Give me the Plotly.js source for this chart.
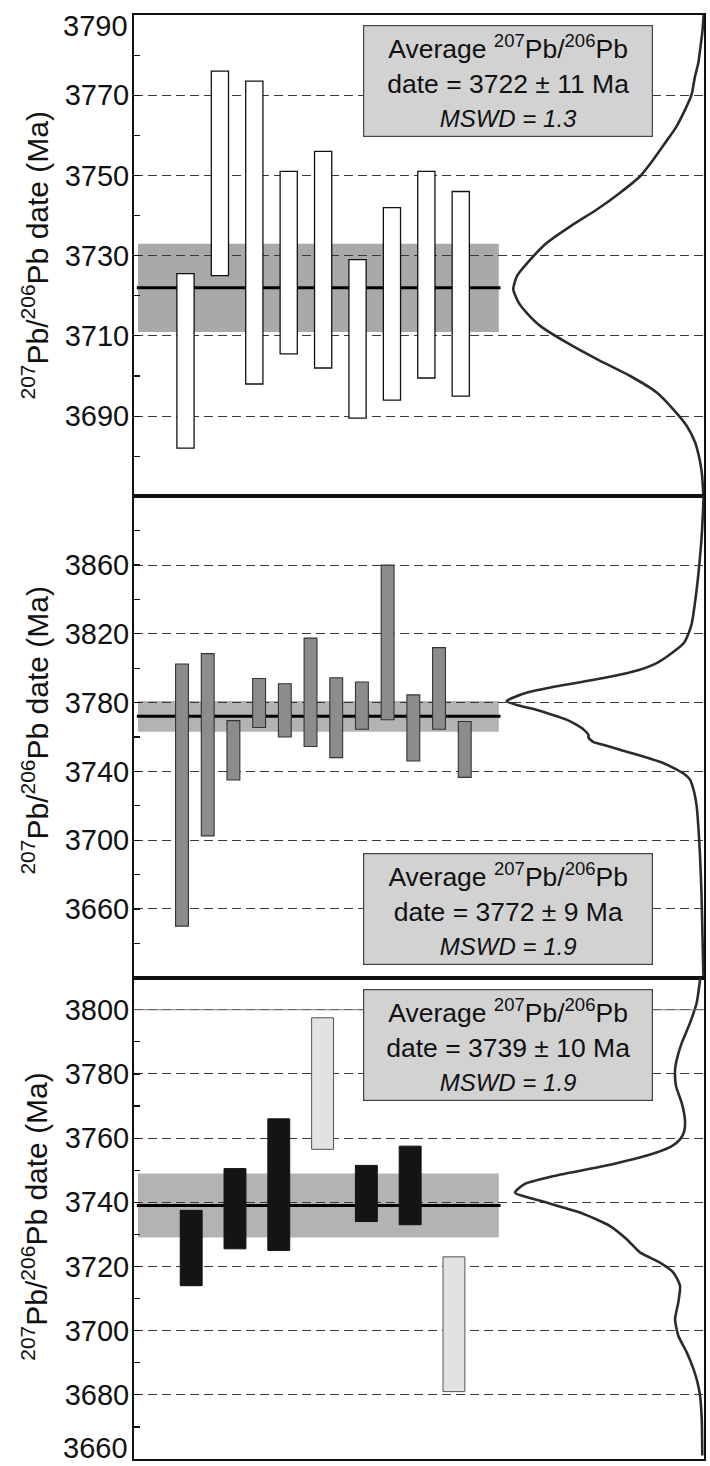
<!DOCTYPE html>
<html>
<head>
<meta charset="utf-8">
<script src="https://cdn.plot.ly/plotly-3.0.1.min.js"></script>
<style>html,body{margin:0;padding:0;background:#fff;}#chart{width:710px;height:1466px;}</style>
</head>
<body>
<div id="chart"></div>
<script>
// ---------- DATA ----------
// Panel 1 (white bars): 2-sigma ranges of 207Pb/206Pb dates (Ma)
const p1Low  = [3682, 3725, 3698, 3705.5, 3702, 3689.5, 3694, 3699.5, 3695];
const p1High = [3725.5, 3776, 3773.5, 3751, 3756, 3729, 3742, 3751, 3746];
// Panel 2 (grey bars)
const p2Low  = [3650, 3702.5, 3735, 3765.5, 3760, 3754.5, 3748, 3764.5, 3770, 3746, 3764.5, 3736.5];
const p2High = [3802.5, 3808.5, 3769.5, 3794, 3791, 3817.5, 3794.5, 3792, 3860, 3784.5, 3812, 3769];
// Panel 3 (black = used, light = rejected)
const p3Low  = [3714, 3725.5, 3725, 3756.5, 3734, 3733, 3681];
const p3High = [3737.5, 3750.5, 3766, 3797.5, 3751.5, 3757.5, 3723];
const p3Used = [true, true, true, false, true, true, false];

// Weighted means
const meanAge = [3722, 3772, 3739];
const meanErr = [11, 9, 10];
const mswd    = ['1.3', '1.9', '1.9'];

// Probability density curves (relative, peak = 1)
const d1Age = [3792, 3790, 3786, 3783, 3778, 3774.7, 3770, 3766.4, 3762, 3758.1, 3754, 3749.8, 3745.5, 3741.5, 3737.5, 3733.2, 3729, 3724.9, 3721.6, 3718.3, 3715.5, 3712.5, 3708.3, 3704.2, 3700, 3695.9, 3691.7, 3687.6, 3683.5, 3679, 3675.2, 3670];
const d1Val = [0, 0.002, 0.008, 0.016, 0.03, 0.047, 0.066, 0.099, 0.147, 0.204, 0.265, 0.335, 0.445, 0.562, 0.695, 0.824, 0.911, 0.981, 1.0, 0.972, 0.925, 0.859, 0.719, 0.562, 0.387, 0.248, 0.161, 0.091, 0.047, 0.022, 0.01, 0.003];

const d2Age = [3900, 3880, 3865, 3846, 3826, 3820, 3815, 3811, 3807, 3803, 3799, 3795, 3792, 3789.5, 3785.7, 3780.8, 3778, 3775.9, 3773, 3770.1, 3767, 3764.3, 3761, 3759.5, 3757, 3755.5, 3752, 3748.7, 3745, 3741, 3738, 3735.2, 3728, 3719.6, 3705, 3690.5, 3670, 3651.7, 3620.6];
const d2Val = [0.002, 0.01, 0.02, 0.037, 0.062, 0.079, 0.1, 0.138, 0.185, 0.24, 0.33, 0.477, 0.62, 0.748, 0.9, 1.0, 0.93, 0.85, 0.77, 0.697, 0.645, 0.61, 0.585, 0.585, 0.56, 0.511, 0.41, 0.308, 0.21, 0.138, 0.095, 0.071, 0.05, 0.037, 0.027, 0.02, 0.013, 0.009, 0.003];

const d3Age = [3812, 3809.3, 3802.1, 3795.9, 3789.6, 3785, 3781.3, 3776.2, 3771, 3765.8, 3762, 3759.6, 3757.5, 3755.5, 3753.5, 3751.3, 3748.2, 3745.6, 3743, 3741.5, 3739.9, 3736.8, 3732.6, 3728.5, 3724.4, 3721.2, 3718.1, 3714, 3708.8, 3703.6, 3698.4, 3693.3, 3688.1, 3684, 3679.8, 3672.5, 3661.1];
const d3Val = [0.015, 0.021, 0.039, 0.074, 0.118, 0.142, 0.153, 0.148, 0.118, 0.101, 0.105, 0.127, 0.17, 0.251, 0.37, 0.53, 0.794, 0.952, 1.0, 0.93, 0.832, 0.656, 0.497, 0.409, 0.339, 0.233, 0.162, 0.127, 0.136, 0.153, 0.136, 0.092, 0.056, 0.035, 0.021, 0.012, 0.009];

// Axis ticks (labelled)
const p1Ticks = [3690, 3710, 3730, 3750, 3770, 3790];
const p1Minor = [3680, 3700, 3720, 3740, 3760, 3780];
const p2Ticks = [3660, 3700, 3740, 3780, 3820, 3860];
const p2Minor = [3640, 3680, 3720, 3760, 3800, 3840, 3880];
const p3Ticks = [3660, 3680, 3700, 3720, 3740, 3760, 3780, 3800];
const p3Minor = [3670, 3690, 3710, 3730, 3750, 3770, 3790];
const yTitle = '<sup>207</sup>Pb/<sup>206</sup>Pb date (Ma)';

// ---------- BUILD ----------
const FONT = 'Liberation Sans, Arial, Helvetica, sans-serif';
const TICKSIZE = 29;
const idx = a => a.map((_, i) => i + 1);
const diff = (hi, lo) => hi.map((h, i) => h - lo[i]);

const traces = [];
traces.push({type: 'bar', x: idx(p1Low), base: p1Low, y: diff(p1High, p1Low), width: 0.5,
  marker: {color: '#ffffff', line: {color: '#111', width: 1.3}}, xaxis: 'x', yaxis: 'y', hoverinfo: 'skip'});
traces.push({type: 'bar', x: idx(p2Low), base: p2Low, y: diff(p2High, p2Low), width: 0.5,
  marker: {color: '#8c8c8c', line: {color: '#333', width: 1.1}}, xaxis: 'x2', yaxis: 'y2', hoverinfo: 'skip'});
traces.push({type: 'bar', x: idx(p3Low), base: p3Low, y: diff(p3High, p3Low), width: 0.5,
  marker: {color: p3Used.map(u => u ? '#141414' : '#e2e2e2'), line: {color: p3Used.map(u => u ? '#111' : '#555'), width: 1}},
  xaxis: 'x3', yaxis: 'y3', hoverinfo: 'skip'});
const curveLine = {color: '#2b2b2b', width: 2.6, shape: 'spline', smoothing: 0.6};
traces.push({type: 'scatter', mode: 'lines', x: d1Val, y: d1Age, line: curveLine, xaxis: 'x4', yaxis: 'y', hoverinfo: 'skip'});
traces.push({type: 'scatter', mode: 'lines', x: d2Val, y: d2Age, line: curveLine, xaxis: 'x5', yaxis: 'y2', hoverinfo: 'skip'});
traces.push({type: 'scatter', mode: 'lines', x: d3Val, y: d3Age, line: curveLine, xaxis: 'x6', yaxis: 'y3', hoverinfo: 'skip'});

// edge labels (at the range limits) are drawn as annotations nudged inside
const range1 = [3670, 3790], range2 = [3620, 3900], range3 = [3660, 3810];
function yAxis(domain, range, ticks, minor) {
  return {
    domain: domain, range: range, tickvals: ticks,
    ticktext: ticks.map(t => (t === range[0] || t === range[1]) ? '' : String(t)),
    ticks: 'inside', ticklen: 6, tickwidth: 1.2, tickcolor: '#111',
    minor: {tickvals: minor, ticks: 'inside', ticklen: 6, tickwidth: 1.2, tickcolor: '#111', showgrid: false},
    showgrid: true, gridcolor: '#3a3a3a', gridwidth: 1, griddash: '9px,5px',
    zeroline: false, showline: true, linecolor: '#111', linewidth: 2, mirror: true,
    tickfont: {family: FONT, size: TICKSIZE, color: '#111'}, ticklabelstandoff: -3,
    automargin: false, fixedrange: true
  };
}
function xAxis(anchor, range) {
  return {anchor: anchor, range: range, showgrid: false, zeroline: false, showticklabels: false, ticks: '',
    showline: true, linecolor: '#111', linewidth: 2, mirror: true, fixedrange: true};
}
function dAxis(over, anchor, range) {
  return {overlaying: over, anchor: anchor, range: range, visible: false, fixedrange: true};
}

const shapes = [];
const yrefs = ['y', 'y2', 'y3'];
const xrefs = ['x domain', 'x2 domain', 'x3 domain'];
for (let k = 0; k < 3; k++) {
  shapes.push({type: 'rect', xref: xrefs[k], yref: yrefs[k], x0: 0.007, x1: 0.64,
    y0: meanAge[k] - meanErr[k], y1: meanAge[k] + meanErr[k], fillcolor: k === 0 ? '#a9a9a9' : '#b3b3b3', line: {width: 0}, layer: 'below'});
  shapes.push({type: 'line', xref: xrefs[k], yref: yrefs[k], x0: 0.005, x1: 0.643,
    y0: meanAge[k], y1: meanAge[k], line: {color: '#000', width: 3}, layer: 'below'});
}
shapes.push({type: 'line', xref: 'x3 domain', yref: 'y3', x0: 0, x1: 1, y0: 3800, y1: 3800, line: {color: '#7a7a7a', width: 1}, layer: 'above'});

function boxText(k, age, err) {
  return 'Average <sup>207</sup>Pb/<sup>206</sup>Pb<br>date = ' + age + ' ± ' + err + ' Ma<br>' +
    '<span style="font-size:24px"><i>MSWD = ' + mswd[k] + '</i></span>';
}
const boxY = [0.9543, 0.3811, 0.2865];
const annotations = boxY.map((yy, k) => ({
  xref: 'paper', yref: 'paper', x: 0.656, y: yy, xanchor: 'center', yanchor: 'middle',
  text: boxText(k, meanAge[k], meanErr[k]), showarrow: false, align: 'center',
  font: {family: FONT, size: 26.5, color: '#111'}, bgcolor: '#d2d2d2', bordercolor: '#444', borderwidth: 1.2,
  borderpad: 2, width: 284, height: 106
}));
// y-axis titles
const titleY = [0.502, 0.515, 0.505];
titleY.forEach((ty, k) => annotations.push({
  xref: 'paper', yref: yrefs[k] + ' domain', x: -0.174, y: ty, xanchor: 'center', yanchor: 'middle',
  text: yTitle, textangle: -90, showarrow: false, font: {family: FONT, size: 30, color: '#111'}
}));
// edge tick labels
annotations.push({xref: 'paper', yref: 'y', x: 0, y: range1[1], xanchor: 'right', yanchor: 'middle', xshift: -5, yshift: -11,
  text: String(range1[1]), showarrow: false, height: 24, borderpad: 0, font: {family: FONT, size: TICKSIZE, color: '#111'}});
annotations.push({xref: 'paper', yref: 'y3', x: 0, y: range3[0], xanchor: 'right', yanchor: 'middle', xshift: -5, yshift: 11,
  text: String(range3[0]), showarrow: false, height: 24, borderpad: 0, font: {family: FONT, size: TICKSIZE, color: '#111'}});

const layout = {
  width: 710, height: 1466,
  margin: {l: 134, r: 6, t: 15, b: 7},
  paper_bgcolor: '#ffffff', plot_bgcolor: '#ffffff',
  showlegend: false, barmode: 'overlay', bargap: 0,
  xaxis: xAxis('y', [-0.497, 16.07]),
  xaxis2: xAxis('y2', [-0.868, 21.31]),
  xaxis3: xAxis('y3', [-0.306, 12.71]),
  xaxis4: dAxis('x', 'y', [2.989, 0]),
  xaxis5: dAxis('x2', 'y2', [2.889, 0]),
  xaxis6: dAxis('x3', 'y3', [3.016, 0]),
  yaxis: yAxis([2/3, 1], range1, p1Ticks, p1Minor),
  yaxis2: yAxis([1/3, 2/3], range2, p2Ticks, p2Minor),
  yaxis3: yAxis([0, 1/3], range3, p3Ticks, p3Minor),
  shapes: shapes, annotations: annotations
};

Plotly.newPlot('chart', traces, layout, {staticPlot: true, displayModeBar: false});
</script>
</body>
</html>
